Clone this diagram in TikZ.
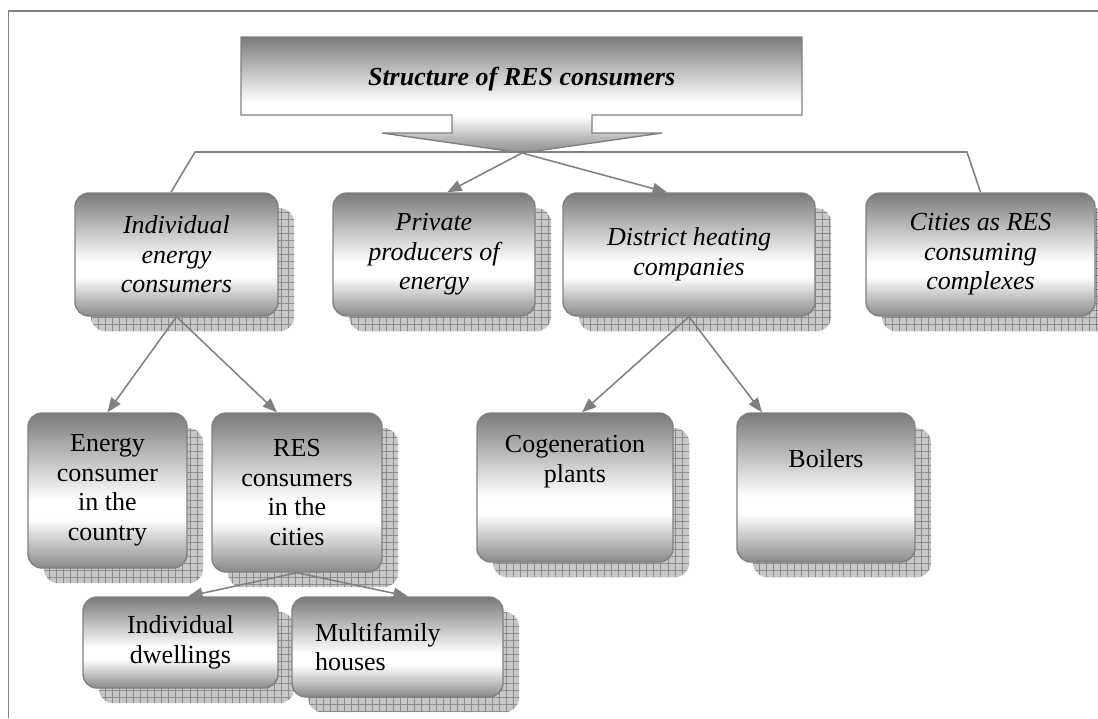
\documentclass[tikz,border=0pt]{standalone}
\usepackage{fontspec}
\setmainfont{Liberation Serif}
\usepackage{tikz}
\usetikzlibrary{arrows.meta, patterns.meta}

\newcommand{\boxfont}{\fontsize{18.5}{21}\selectfont}
\pgfdeclareverticalshading{boxshade}{100bp}{color(0bp)=(black!46); color(25bp)=(black!46); color(41bp)=(white); color(47bp)=(white); color(75bp)=(black!52); color(100bp)=(black!52)}

\tikzset{
	consumer/.style={draw=gray, line width=1pt, rounded corners=0.35cm, shade, shading=boxshade,
		align=center, inner sep=0pt, font=\boxfont,
		preaction={fill=black!22, transform canvas={shift={(0.4,-0.38)}}},
		preaction={pattern={Lines[distance=5pt,angle=0,line width=0.4pt]}, pattern color=black!45, transform canvas={shift={(0.4,-0.38)}}},
		preaction={pattern={Lines[distance=5pt,angle=90,line width=0.4pt]}, pattern color=black!45, transform canvas={shift={(0.4,-0.38)}}}},
	consumerit/.style={consumer, font=\boxfont\itshape},
	link/.style={draw=gray, line width=1.1pt, -{Triangle[length=0.36cm,width=0.28cm]}},
	bus/.style={draw=gray, line width=1.1pt}
}

\begin{document}
\begin{tikzpicture}
	
	\useasboundingbox (0,0) rectangle (27.45,-17.95);
	\draw [gray, line width=1.2pt] (0.21,-17.95) -- (0.21,-0.275) -- (27.45,-0.275);
	
	% title arrow
	\path [shade, shading=boxshade, draw=gray, line width=1pt] (6.025,-0.925) -- (20.05,-0.925) -- (20.05,-2.875) -- (14.8,-2.875) -- (14.8,-3.325) -- (16.55,-3.325) -- (13.05,-3.825) -- (9.55,-3.325) -- (11.3,-3.325) -- (11.3,-2.875) -- (6.025,-2.875) -- cycle;
	\node [font=\boxfont\bfseries\itshape] (title) at (13.04,-1.975) {Structure of RES consumers};
	\coordinate (tip) at (13.05,-3.825);
	\coordinate (busl) at (4.875,-3.8);
	\coordinate (busr) at (24.175,-3.8);
	
	\node [consumerit, minimum width=5.075cm, minimum height=3.075cm] (ind) at (4.4125,-6.3625) {Individual\\energy\\consumers};
	\node [consumerit, minimum width=5.05cm, minimum height=3.075cm] (priv) at (10.85,-6.3625) {Private\\producers of\\energy};
	\node [consumerit, minimum width=6.3cm, minimum height=3.075cm] (dist) at (17.225,-6.3625) {District heating\\companies};
	\node [consumerit, minimum width=5.725cm, minimum height=3.075cm] (cities) at (24.5125,-6.3625) {Cities as RES\\consuming\\complexes};
	
	\node [consumer, minimum width=3.975cm, minimum height=3.875cm] (country) at (2.6875,-12.2625) {Energy\\consumer\\in the\\country};
	\node [consumer, minimum width=4.25cm, minimum height=3.975cm] (rescities) at (7.425,-12.3125) {RES\\consumers\\in the\\cities};
	\node [consumer, minimum width=4.9cm, minimum height=3.725cm] (cogen) at (14.375,-12.1875) {};
	\node [font=\boxfont, align=center, inner sep=0pt, anchor=north] (cogentext) at ([yshift=-0.575cm]cogen.north) {Cogeneration\\plants};
	\node [consumer, minimum width=4.45cm, minimum height=3.725cm] (boilers) at (20.65,-12.1875) {};
	\node [font=\boxfont, inner sep=0pt, anchor=north] (boilerstext) at ([yshift=-0.925cm]boilers.north) {Boilers};
	
	\node [consumer, minimum width=4.875cm, minimum height=2.275cm] (dwell) at (4.5125,-16.0625) {Individual\\dwellings};
	\node [consumer, minimum width=5.275cm, minimum height=2.5cm, text width=4.125cm, align=left] (multi) at (9.9375,-16.175) {Multifamily\\houses};
	
	\draw [bus] ([xshift=-0.14cm]ind.north) -- (busl) -- (busr) -- (cities.north);
	\draw [link] (tip) -- ([xshift=0.33cm]priv.north);
	\draw [link] (tip) -- ([xshift=-0.55cm]dist.north);
	
	\draw [link] (ind.south) -- (country.north);
	\draw [link] (ind.south) -- ([xshift=-0.5cm]rescities.north);
	\draw [link] (dist.south) -- ([xshift=0.175cm]cogen.north);
	\draw [link] (dist.south) -- ([xshift=-1.6cm]boilers.north);
	\draw [link] (rescities.south) -- ([xshift=0.19cm]dwell.north);
	\draw [link] (rescities.south) -- ([xshift=0.26cm]multi.north);
	
\end{tikzpicture}
\end{document}
